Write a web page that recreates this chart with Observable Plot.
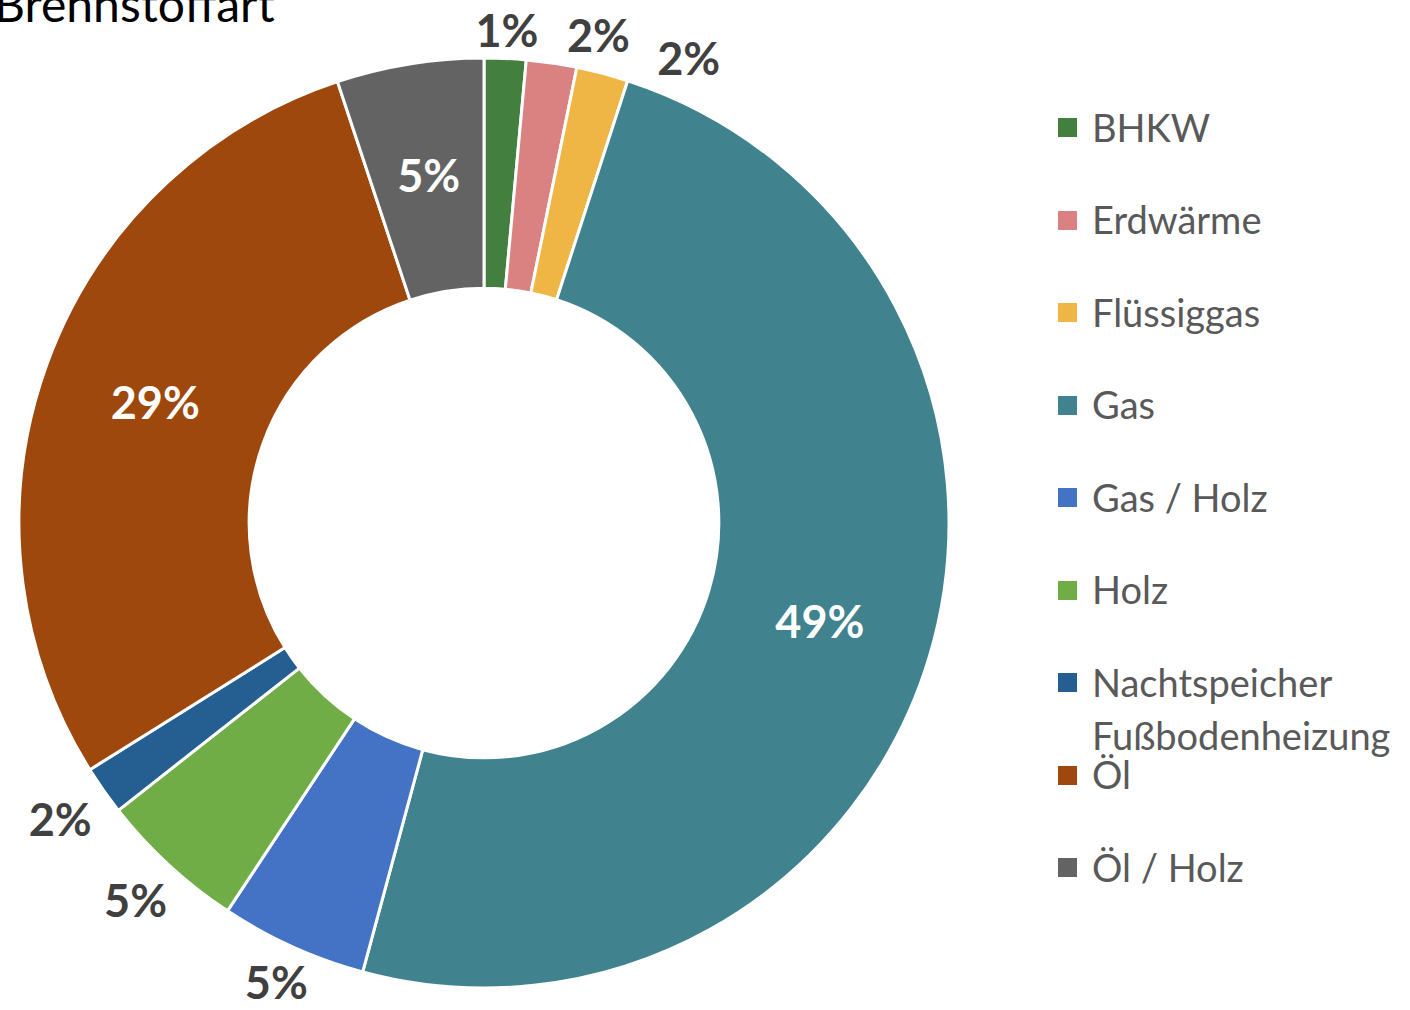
<!DOCTYPE html>
<html><head><meta charset="utf-8">
<script src="https://cdn.jsdelivr.net/npm/d3@7"></script>
<script src="https://cdn.jsdelivr.net/npm/@observablehq/plot@0.6"></script>
<style>
body{margin:0;background:#fff;overflow:hidden}
#wrap{position:relative;width:1410px;height:1010px;font-family:Lato,"Open Sans",sans-serif;overflow:hidden}
#title{position:absolute;left:-6px;top:-22px;font-size:48px;color:#000;line-height:52px;white-space:nowrap}
#chart{position:absolute;left:0;top:0}
.li{position:absolute;left:1058px;width:350px}
.sw{position:absolute;left:0;width:19px;height:19px}
.lt{position:absolute;left:34px;width:316px;font-size:38px;line-height:53px;color:#595959}
</style></head><body>
<div id="wrap"><div id="chart"></div><div id="title">Brennstoffart</div><div id="legend"></div></div>
<script>
const categories = ["BHKW","Erdwärme","Flüssiggas","Gas","Gas / Holz","Holz","Nachtspeicher Fußbodenheizung","Öl","Öl / Holz"];
const shares = [1.45, 1.75, 1.8, 49.2, 5.1, 5.1, 1.7, 28.8, 5.1];
const colors = ["#43803f","#da8282","#efb545","#40838f","#4472c4","#70ad47","#255e91","#9e480e","#636363"];

const rows = categories.map((c, i) => ({category: c, share: shares[i]}));
const insideLabels = new Set(["Gas", "Öl", "Öl / Holz"]);
const innerRatio = 0.505;

const arcs = d3.pie().sort(null).value(d => d.share)(rows);
const total = d3.sum(shares);

// label positions derived from the slice angles (in units of the outer radius)
const R_PX = 465, halfW = 45 / R_PX, halfH = 17 / R_PX, gap = 7 / R_PX;
const labels = [];
let prevOut = -Infinity;
const minSep = 0.185;
arcs.forEach(a => {
  const mid = (a.startAngle + a.endAngle) / 2;
  const inside = insideLabels.has(a.data.category);
  let ang = mid, r;
  if (inside) { r = (1 + innerRatio) / 2; }
  else {
    if (ang - prevOut < minSep && ang < Math.PI) ang = prevOut + minSep;
    prevOut = ang;
    r = 1 + gap + Math.abs(Math.sin(ang)) * halfW + Math.abs(Math.cos(ang)) * halfH;
  }
  labels.push({
    x: r * Math.sin(ang), y: r * Math.cos(ang),
    text: Math.round(a.data.share / total * 100) + "%",
    inside
  });
});

const colorScale = Plot.scale({color: {domain: categories, range: colors}});

function donut(index, scales) {
  const {x, y} = scales;
  const cx = x(0), cy = y(0), R = x(1) - x(0);
  const arcGen = d3.arc().innerRadius(R * innerRatio).outerRadius(R);
  const g = d3.create("svg:g").attr("transform", `translate(${cx},${cy})`);
  g.selectAll("path").data(arcs).join("path")
    .attr("d", arcGen)
    .attr("fill", d => colorScale.apply(d.data.category))
    .attr("stroke", "#fff").attr("stroke-width", 3).attr("stroke-linejoin", "miter");
  return g.node();
}

const plot = Plot.plot({
  width: 1410, height: 1010,
  marginTop: 0, marginRight: 0, marginBottom: 0, marginLeft: 0,
  x: {domain: [-1, 1], range: [19, 949], axis: null},
  y: {domain: [-1, 1], range: [988, 58], axis: null},
  style: {fontFamily: "Lato, 'Open Sans', sans-serif", background: "transparent"},
  marks: [
    donut,
    Plot.text(labels.filter(d => d.inside), {x: "x", y: "y", text: "text", fill: "#ffffff", fontWeight: "bold", fontSize: 45}),
    Plot.text(labels.filter(d => !d.inside), {x: "x", y: "y", text: "text", fill: "#404040", fontWeight: "bold", fontSize: 45})
  ]
});
document.getElementById("chart").appendChild(plot);

const legend = d3.select("#legend");
categories.forEach((c, i) => {
  const cyRow = 127.5 + i * 92.5;
  const item = legend.append("div").attr("class", "li").style("top", (cyRow - 27) + "px");
  item.append("div").attr("class", "sw").style("top", "17.5px").style("background", colorScale.apply(c));
  item.append("div").attr("class", "lt").text(c);
});
</script>
</body></html>
